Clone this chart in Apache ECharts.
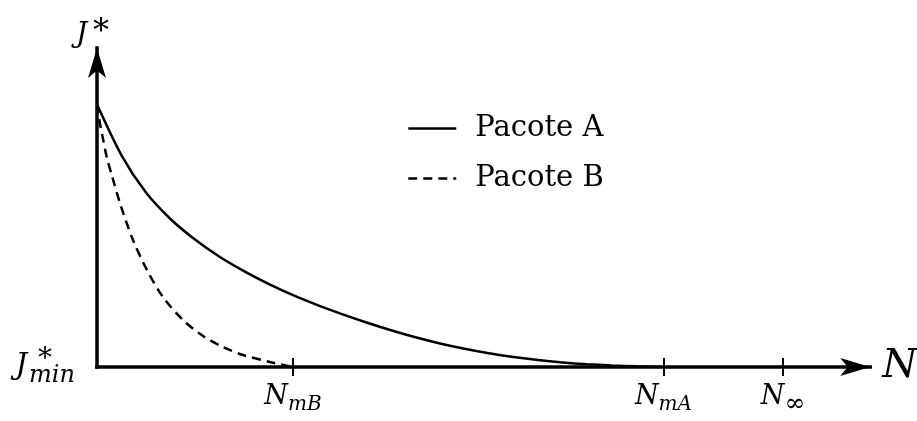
<!DOCTYPE html>
<html>
<head>
<meta charset="utf-8">
<script src="https://cdn.jsdelivr.net/npm/echarts@6/dist/echarts.min.js"></script>
<style>
  html, body { margin: 0; padding: 0; background: #ffffff; }
  #chart { width: 917px; height: 421px; }
</style>
</head>
<body>
<div id="chart"></div>
<script>
// Optimal cost J* as a function of N for two packets
const seriesNames = ['Pacote A', 'Pacote B'];

// Pacote A: slow decay, reaches the minimum at N_mA
const nA = [0, 0.25, 0.5, 0.75, 1.0, 1.25, 1.5, 1.75, 2.0, 2.25, 2.5, 2.75,
            3.0, 3.25, 3.5, 3.75, 4.0, 4.25, 4.5, 4.75, 5.0, 5.25, 5.5, 5.78];
const jA = [2.68, 2.16, 1.78, 1.51, 1.30, 1.125, 0.978, 0.848, 0.733, 0.632, 0.540, 0.454,
            0.375, 0.303, 0.240, 0.186, 0.140, 0.102, 0.071, 0.047, 0.029, 0.016, 0.007, 0];

// Pacote B: fast decay, reaches the minimum at N_mB
const nB = [0, 0.031, 0.061, 0.102, 0.153, 0.235, 0.367, 0.510, 0.673, 0.878, 1.082, 1.286, 1.490, 1.765, 2.0];
const jB = [2.68, 2.48, 2.33, 2.13, 1.95, 1.67, 1.296, 0.990, 0.714, 0.480, 0.316, 0.204, 0.122, 0.051, 0];

// Marked positions on the N axis
const tickValues = [2.0, 5.78, 7.0];
const tickSubscripts = ['mB', 'mA', '\u221E'];

// Axis extents (the arrow tips sit at these ends)
const xMax = 7.89;
const yMax = 3.255;
const UNIT = 98; // pixels per data unit on both axes

const SERIF = '"DejaVu Serif", "Liberation Serif", serif';
const INK = '#000000';

function tickLabel(v) {
  const i = tickValues.findIndex(t => Math.abs(t - v) < 1e-9);
  if (i < 0) return '';
  const sub = tickSubscripts[i];
  return '{n|N}' + (sub === '\u221E' ? '{inf|' + sub + '}' : '{s|' + sub + '}');
}

const chart = echarts.init(document.getElementById('chart'), null, { renderer: 'canvas' });

chart.setOption({
  animation: false,
  backgroundColor: '#ffffff',
  grid: {
    left: 97, top: 367 - yMax * UNIT, width: xMax * UNIT, height: yMax * UNIT,
    outerBoundsMode: 'none', containLabel: false
  },
  legend: {
    data: seriesNames,
    orient: 'vertical',
    left: 407, top: 114, padding: 0,
    itemWidth: 48, itemHeight: 14, itemGap: 21,
    itemStyle: { color: 'transparent', borderWidth: 0, opacity: 0 },
    lineStyle: { width: 2.5, color: INK },
    textStyle: { fontFamily: SERIF, fontSize: 29, color: INK, padding: [0, 0, 0, 14] }
  },
  xAxis: [
    {
      type: 'value', min: 0, max: xMax,
      name: 'N', nameLocation: 'end', nameGap: 12,
      nameTextStyle: { fontFamily: SERIF, fontStyle: 'italic', fontSize: 40, color: INK, verticalAlign: 'middle' },
      axisLine: {
        show: true, onZero: false,
        symbol: ['none', 'arrow'], symbolSize: [13.5, 30],
        lineStyle: { color: INK, width: 3.5, cap: 'square' }
      },
      axisTick: { show: true, customValues: tickValues, length: 9, lineStyle: { color: INK, width: 2 } },
      axisLabel: {
        show: true, customValues: tickValues, margin: 16,
        formatter: tickLabel,
        rich: {
          n: { fontFamily: SERIF, fontStyle: 'italic', fontSize: 27, color: INK, verticalAlign: 'top' },
          s: { fontFamily: SERIF, fontStyle: 'italic', fontSize: 20, color: INK, verticalAlign: 'top', padding: [12, 0, 0, 0] },
          inf: { fontFamily: SERIF, fontSize: 25, color: INK, verticalAlign: 'top', padding: [9, 0, 0, 0] }
        }
      },
      splitLine: { show: false }
    },
    {
      // inner half of the tick marks
      type: 'value', min: 0, max: xMax, position: 'bottom',
      axisLine: { show: false },
      axisTick: { show: true, inside: true, customValues: tickValues, length: 9, lineStyle: { color: INK, width: 2 } },
      axisLabel: { show: false },
      splitLine: { show: false }
    }
  ],
  yAxis: {
    type: 'value', min: 0, max: yMax,
    name: '{j|J}{a|*}', nameLocation: 'end', nameGap: -1,
    nameTextStyle: {
      padding: [0, 9, 0, 0],
      rich: {
        j: { fontFamily: SERIF, fontStyle: 'italic', fontSize: 28, color: INK, verticalAlign: 'top', padding: [10, 0, 0, 0] },
        a: { fontFamily: SERIF, fontSize: 32, color: INK, verticalAlign: 'top', padding: [6, 0, 0, 6] }
      }
    },
    axisLine: {
      show: true, onZero: false,
      symbol: ['none', 'arrow'], symbolSize: [13.5, 30],
      lineStyle: { color: INK, width: 3.5, cap: 'square' }
    },
    axisTick: { show: false },
    axisLabel: {
      show: true, customValues: [0], margin: 22,
      formatter: () => '{j|J}{a| *}{b|min}',
      rich: {
        j: { fontFamily: SERIF, fontStyle: 'italic', fontSize: 29, color: INK, align: 'left', verticalAlign: 'top', padding: [6, 2, 0, 0] },
        a: { fontFamily: SERIF, fontSize: 28, width: 0, color: INK, align: 'left', verticalAlign: 'top' },
        b: { fontFamily: SERIF, fontStyle: 'italic', fontSize: 24, color: INK, align: 'left', verticalAlign: 'top', padding: [18, 0, 0, 0] }
      }
    },
    splitLine: { show: false }
  },
  series: [
    {
      name: seriesNames[0], type: 'line',
      data: nA.map((n, i) => [n, jA[i]]),
      symbol: 'none', showSymbol: false,
      smooth: 0.3,
      itemStyle: { color: INK },
      lineStyle: { color: INK, width: 2.5 },
      z: 3
    },
    {
      name: seriesNames[1], type: 'line',
      data: nB.map((n, i) => [n, jB[i]]),
      symbol: 'none', showSymbol: false,
      smooth: 0.3,
      itemStyle: { color: INK },
      lineStyle: { color: INK, width: 2.5, type: [9, 6] },
      z: 3
    }
  ]
});
</script>
</body>
</html>
